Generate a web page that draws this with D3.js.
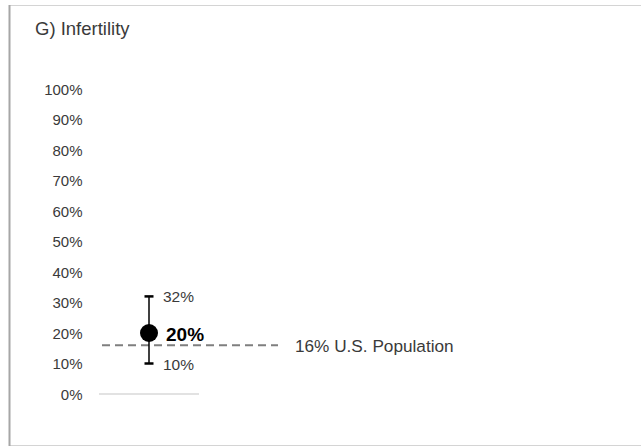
<!DOCTYPE html>
<html>
<head>
<meta charset="utf-8">
<script src="https://cdn.jsdelivr.net/npm/d3@7"></script>
<style>
  html, body { margin: 0; padding: 0; background: #fff; }
  svg { display: block; font-family: "Liberation Sans", Arial, sans-serif; }
</style>
</head>
<body>
<svg id="chart" width="641" height="447"></svg>
<script>
// ---- data ----
const title = "G) Infertility";
const categories = ["Infertility"];
const pointValues = [0.20];
const lowerValues = [0.10];
const upperValues = [0.32];
const referenceValue = [0.16];
const referenceLabel = ["16% U.S. Population"];
const yTicks = [0, 0.1, 0.2, 0.3, 0.4, 0.5, 0.6, 0.7, 0.8, 0.9, 1.0];

const svg = d3.select("#chart");
const W = 641, H = 447;
const textColor = "#3a3a3a";

// frame
svg.append("line").attr("x1", 9.5).attr("x2", W).attr("y1", 5.5).attr("y2", 5.5)
  .attr("stroke", "#d4d4d4").attr("stroke-width", 1);
svg.append("line").attr("x1", 9.5).attr("x2", W).attr("y1", 445.5).attr("y2", 445.5)
  .attr("stroke", "#d4d4d4").attr("stroke-width", 1);
svg.append("line").attr("x1", 9.5).attr("x2", 9.5).attr("y1", 5).attr("y2", 446)
  .attr("stroke", "#a6a6a6").attr("stroke-width", 2);

// title
svg.append("text").attr("x", 35).attr("y", 35)
  .attr("font-size", 18.5).attr("fill", textColor).text(title);

// scales
const y = d3.scaleLinear().domain([0, 1]).range([394, 89]);
const x = d3.scalePoint().domain(categories).range([99, 199]).padding(0.5);
const xRef = d3.scaleLinear().domain([0, 1]).range([102, 278]);

// y axis
const yAxis = d3.axisLeft(y).tickValues(yTicks).tickSize(0).tickPadding(0)
  .tickFormat(d3.format(".0%"));
const gy = svg.append("g").attr("transform", "translate(82.5,0)").call(yAxis);
gy.select(".domain").remove();
gy.selectAll("text").attr("font-size", 15).attr("fill", textColor)
  .attr("font-family", "Liberation Sans, Arial, sans-serif").attr("dy", "0.36em");

// zero baseline
svg.append("line").attr("x1", 99).attr("x2", 199)
  .attr("y1", y(0)).attr("y2", y(0))
  .attr("stroke", "#d9d9d9").attr("stroke-width", 1.5);

// reference dashed line
svg.append("line")
  .attr("x1", xRef(0)).attr("x2", xRef(1))
  .attr("y1", y(referenceValue[0])).attr("y2", y(referenceValue[0]))
  .attr("stroke", "#7f7f7f").attr("stroke-width", 2)
  .attr("stroke-dasharray", "8,5");
svg.append("text").attr("x", xRef(1) + 17).attr("y", y(referenceValue[0]) + 1)
  .attr("dy", "0.36em").attr("font-size", 17.2).attr("fill", textColor)
  .text(referenceLabel[0]);

// error bars
const g = svg.append("g");
const fmt = d3.format(".0%");
categories.forEach((c, i) => {
  const cx = x(c);
  g.append("line").attr("x1", cx).attr("x2", cx)
    .attr("y1", y(upperValues[i])).attr("y2", y(lowerValues[i]))
    .attr("stroke", "#000").attr("stroke-width", 1.5);
  [upperValues[i], lowerValues[i]].forEach(v => {
    g.append("line").attr("x1", cx - 4.5).attr("x2", cx + 4.5)
      .attr("y1", y(v)).attr("y2", y(v))
      .attr("stroke", "#000").attr("stroke-width", 2.5);
  });
  g.append("circle").attr("cx", cx).attr("cy", y(pointValues[i])).attr("r", 9)
    .attr("fill", "#000");
  g.append("text").attr("x", cx + 14).attr("y", y(upperValues[i])).attr("dy", "0.36em")
    .attr("font-size", 15.5).attr("fill", textColor).text(fmt(upperValues[i]));
  g.append("text").attr("x", cx + 14).attr("y", y(lowerValues[i]) + 1).attr("dy", "0.36em")
    .attr("font-size", 15.5).attr("fill", textColor).text(fmt(lowerValues[i]));
  g.append("text").attr("x", cx + 17).attr("y", y(pointValues[i]) + 1).attr("dy", "0.36em")
    .attr("font-size", 19).attr("font-weight", "bold").attr("fill", "#000")
    .text(fmt(pointValues[i]));
});
</script>
</body>
</html>
